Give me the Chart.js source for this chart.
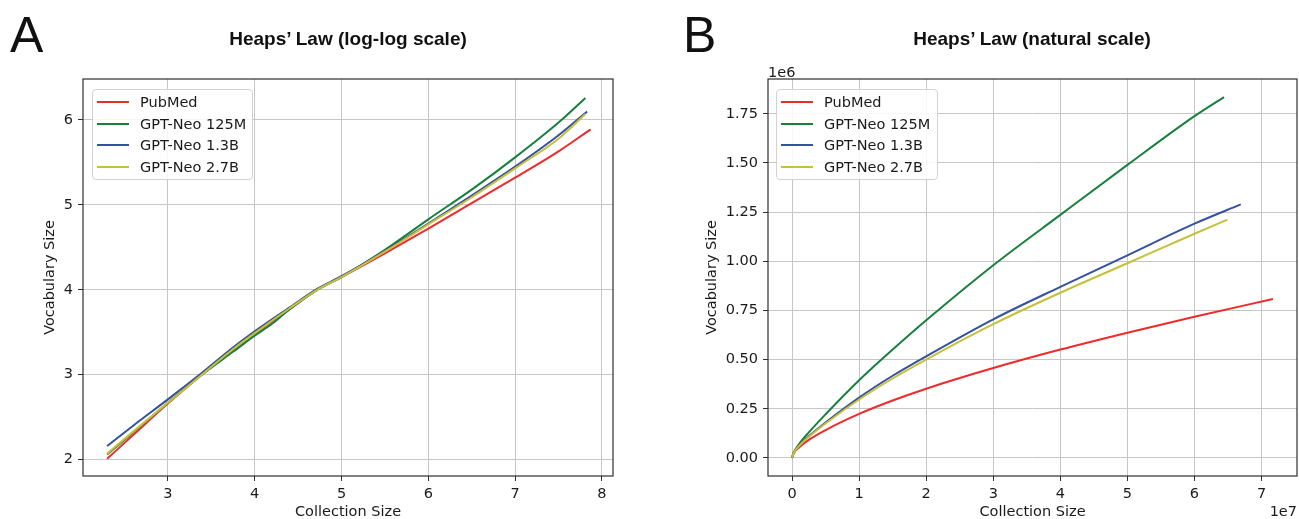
<!DOCTYPE html>
<html><head><meta charset="utf-8">
<script src="https://cdn.jsdelivr.net/npm/chart.js@4"></script>
<style>
html,body{margin:0;padding:0;background:#fff;}
#wrap{position:relative;width:1299px;height:519px;overflow:hidden;font-family:'DejaVu Sans',sans-serif;color:#1a1a1a;}
canvas{position:absolute;top:0;}
.letter{position:absolute;font-family:'Liberation Sans',Arial,sans-serif;font-size:50px;line-height:50px;color:#111;}
.title{position:absolute;font-family:'Liberation Sans',Arial,sans-serif;font-weight:bold;font-size:19px;line-height:19px;color:#111;transform:translateX(-50%);white-space:nowrap;}
.legend{position:absolute;border:1px solid #d2d2d2;border-radius:4px;background:rgba(255,255,255,0.85);box-sizing:border-box;}
.handle{position:absolute;height:2px;}
.ltext{position:absolute;font-size:14.5px;line-height:16px;white-space:nowrap;color:#1a1a1a;}
.offset{position:absolute;font-size:14.5px;line-height:16px;color:#1a1a1a;}
</style>
</head><body>
<div id="wrap">
  <canvas id="c1" width="650" height="519" style="left:0"></canvas>
  <canvas id="c2" width="649" height="519" style="left:650px"></canvas>
  <div class="letter" style="left:10px;top:10px">A</div>
  <div class="letter" style="left:683px;top:10px">B</div>
  <div class="title" style="left:348px;top:29px">Heaps’ Law (log-log scale)</div>
  <div class="title" style="left:1032px;top:29px">Heaps’ Law (natural scale)</div>
  <div class="offset" style="left:768px;top:64px">1e6</div>
  <div class="offset" style="right:2px;top:503px">1e7</div>
  <div class="legend" id="leg1" style="left:92px;top:89px;width:161px;height:91px"></div>
  <div class="legend" id="leg2" style="left:776px;top:89px;width:162px;height:91px"></div>
</div>
<script>
// ---- Data ----
const seriesNames = ['PubMed', 'GPT-Neo 125M', 'GPT-Neo 1.3B', 'GPT-Neo 2.7B'];
const seriesColors = ['#ef2a2a', '#17803d', '#3451a2', '#c5c13a'];

// Panel A: log10(collection size), log10(vocabulary size)
const logPubMed = [[2.3,2.01],[2.6,2.29],[3.0,2.66],[3.39,3.0],[3.75,3.29],[4.0,3.48],[4.4,3.77],[4.72,4.0],[5.0,4.15],[5.5,4.43],[6.0,4.72],[6.5,5.02],[7.0,5.32],[7.5,5.63],[7.87,5.89]];
const logNeo125M = [[2.3,2.06],[2.6,2.32],[3.0,2.67],[3.39,3.0],[3.75,3.27],[4.0,3.46],[4.2,3.6],[4.4,3.77],[4.72,4.0],[5.0,4.15],[5.5,4.47],[6.0,4.83],[6.5,5.18],[7.0,5.56],[7.5,5.97],[7.81,6.26]];
const logNeo13B = [[2.3,2.16],[2.6,2.40],[3.0,2.71],[3.39,3.02],[3.75,3.32],[4.0,3.51],[4.4,3.79],[4.72,4.01],[5.0,4.16],[5.5,4.46],[6.0,4.78],[6.5,5.11],[7.0,5.45],[7.5,5.82],[7.83,6.10]];
const logNeo27B = [[2.3,2.07],[2.6,2.33],[3.0,2.67],[3.39,3.0],[3.75,3.30],[4.0,3.49],[4.4,3.78],[4.72,4.0],[5.0,4.15],[5.5,4.45],[6.0,4.77],[6.5,5.09],[7.0,5.43],[7.5,5.78],[7.81,6.07]];

// Panel B: collection size (x 1e7), vocabulary size (x 1e6)
const natPubMed = [[0,0],[0.02,0.021],[0.1,0.052],[0.25,0.092],[0.5,0.142],[1,0.224],[1.5,0.292],[2,0.352],[3,0.457],[4,0.551],[5,0.637],[6,0.718],[7.17,0.808]];
const natNeo125M = [[0,0],[0.02,0.023],[0.1,0.068],[0.25,0.13],[0.5,0.222],[1,0.395],[1.5,0.551],[2,0.70],[3,0.98],[4,1.236],[5,1.49],[6,1.738],[6.44,1.835]];
const natNeo13B = [[0,0],[0.02,0.022],[0.1,0.06],[0.25,0.11],[0.5,0.18],[1,0.307],[1.5,0.418],[2,0.517],[3,0.705],[4,0.87],[5,1.03],[6,1.191],[6.69,1.289]];
const natNeo27B = [[0,0],[0.02,0.022],[0.1,0.059],[0.25,0.107],[0.5,0.175],[1,0.297],[1.5,0.404],[2,0.5],[3,0.68],[4,0.84],[5,0.99],[6,1.14],[6.49,1.212]];

const logXTicks = [3, 4, 5, 6, 7, 8];
const logYTicks = [2, 3, 4, 5, 6];
const natXTicks = [0, 1, 2, 3, 4, 5, 6, 7];
const natYTicks = [0, 0.25, 0.5, 0.75, 1.0, 1.25, 1.5, 1.75];

// ---- Rendering ----
const FONT = 'DejaVu Sans';
const FS = 14.5;
const TXT = '#1a1a1a';
const GRID = '#c6c6c6';
const SPINE = '#2e2e2e';

const framePlugin = {
  id: 'frame',
  afterDraw(chart) {
    const {ctx, chartArea: a} = chart;
    ctx.save();
    ctx.strokeStyle = SPINE;
    ctx.lineWidth = 1.2;
    ctx.strokeRect(a.left, a.top, a.right - a.left, a.bottom - a.top);
    ctx.restore();
  }
};

function makeChart(id, sets, o) {
  const toXY = arr => arr.map(p => ({x: p[0], y: p[1]}));
  const tickFont = {family: FONT, size: FS};
  return new Chart(document.getElementById(id), {
    type: 'line',
    data: {
      datasets: sets.map((d, i) => ({
        label: seriesNames[i],
        data: toXY(d),
        borderColor: seriesColors[i],
        backgroundColor: seriesColors[i],
        borderWidth: 2,
        pointRadius: 0,
        fill: false,
        order: sets.length - i,
        tension: 0,
        cubicInterpolationMode: 'monotone'
      }))
    },
    options: {
      responsive: false,
      animation: false,
      events: [],
      layout: {padding: {top: o.top, right: o.right, left: 0, bottom: 0}},
      plugins: {legend: {display: false}, tooltip: {enabled: false}, title: {display: false}},
      scales: {
        x: {
          type: 'linear', min: o.xMin, max: o.xMax,
          afterBuildTicks: s => { s.ticks = o.xTicks.map(v => ({value: v})); },
          afterFit: s => { s.height = 43; },
          ticks: {font: tickFont, color: TXT, padding: 5, autoSkip: false, maxRotation: 0, callback: o.xFmt},
          grid: {color: GRID, lineWidth: 1, tickLength: 5, tickColor: SPINE, tickWidth: 1},
          border: {display: false},
          title: {display: true, text: 'Collection Size', font: {family: FONT, size: FS, lineHeight: 1.0}, color: TXT, padding: {top: 0, bottom: 0}}
        },
        y: {
          type: 'linear', min: o.yMin, max: o.yMax,
          afterBuildTicks: s => { s.ticks = o.yTicks.map(v => ({value: v})); },
          afterFit: s => { s.width = o.yWidth; },
          ticks: {font: tickFont, color: TXT, padding: 5, autoSkip: false, callback: o.yFmt},
          grid: {color: GRID, lineWidth: 1, tickLength: 5, tickColor: SPINE, tickWidth: 1},
          border: {display: false},
          title: {display: true, text: 'Vocabulary Size', font: {family: FONT, size: FS}, color: TXT, padding: {top: o.yTitlePad, bottom: 0}}
        }
      }
    },
    plugins: [framePlugin]
  });
}

makeChart('c1', [logPubMed, logNeo125M, logNeo13B, logNeo27B], {
  top: 79, right: 37, yWidth: 83, yTitlePad: 42,
  xMin: 2.0225, xMax: 8.1275, yMin: 1.8075, yMax: 6.4825,
  xTicks: logXTicks, yTicks: logYTicks,
  xFmt: v => String(v), yFmt: v => String(v)
});
makeChart('c2', [natPubMed, natNeo125M, natNeo13B, natNeo27B], {
  top: 79, right: 2, yWidth: 118, yTitlePad: 54,
  xMin: -0.3585, xMax: 7.5285, yMin: -0.09175, yMax: 1.92675,
  xTicks: natXTicks, yTicks: natYTicks,
  xFmt: v => String(v), yFmt: v => v.toFixed(2)
});

function buildLegend(id) {
  const box = document.getElementById(id);
  const rowCenters = [12, 33.5, 55, 76.5];
  seriesNames.forEach((name, i) => {
    const h = document.createElement('div');
    h.className = 'handle';
    h.style.left = '4px'; h.style.width = '32px';
    h.style.top = (rowCenters[i] - 1) + 'px';
    h.style.background = seriesColors[i];
    box.appendChild(h);
    const t = document.createElement('div');
    t.className = 'ltext';
    t.style.left = '47px';
    t.style.top = (rowCenters[i] - 8) + 'px';
    t.textContent = name;
    box.appendChild(t);
  });
}
buildLegend('leg1');
buildLegend('leg2');
</script>
</body></html>
